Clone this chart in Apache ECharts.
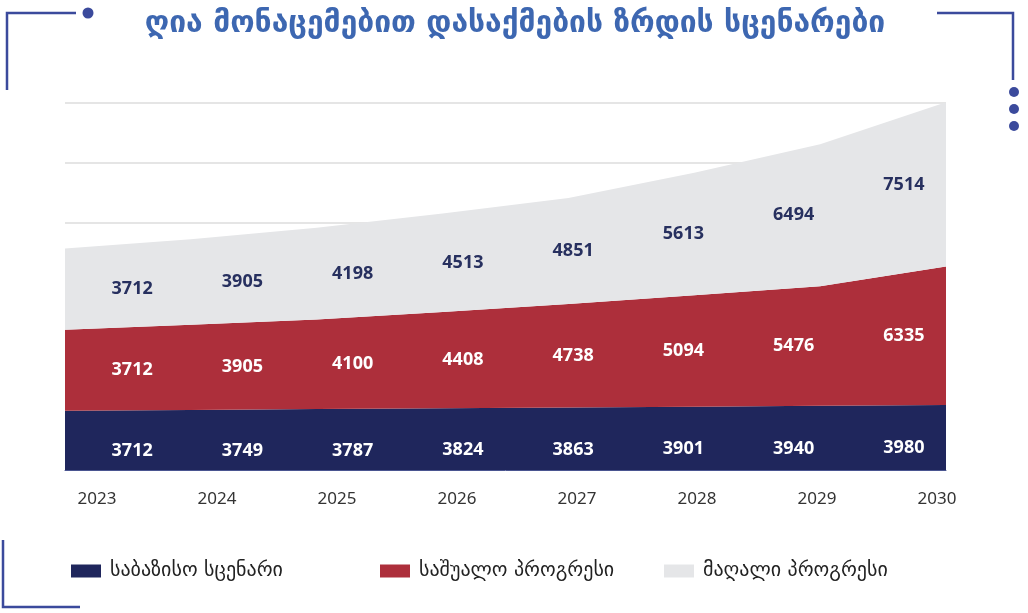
<!DOCTYPE html>
<html>
<head>
<meta charset="utf-8">
<script src="https://cdn.jsdelivr.net/npm/echarts@6/dist/echarts.min.js"></script>
<style>
  html, body { margin: 0; padding: 0; background: #ffffff; }
  #chart { width: 1028px; height: 613px; }
</style>
</head>
<body>
<div id="chart"></div>
<script>
// ---- data ----
const titleText = 'ღია მონაცემებით დასაქმების ზრდის სცენარები';
const years = ['2023', '2024', '2025', '2026', '2027', '2028', '2029', '2030'];
const seriesNames = ['საბაზისო სცენარი', 'საშუალო პროგრესი', 'მაღალი პროგრესი'];
const baseScenario = [3712, 3749, 3787, 3824, 3863, 3901, 3940, 3980];
const mediumProgress = [3712, 3905, 4100, 4408, 4738, 5094, 5476, 6335];
const highProgress = [3712, 3905, 4198, 4513, 4851, 5613, 6494, 7514];

// ---- styling ----
const colors = ['#1f265c', '#ad2f3b', '#e5e6e8'];
const labelColors = ['#ffffff', '#ffffff', '#27305f'];
const deco = '#3b4a9c';
const seriesData = [baseScenario, mediumProgress, highProgress];
const yMin = 1000, yMax = 17800;

const chart = echarts.init(document.getElementById('chart'), null, { renderer: 'canvas' });

const areaSeries = seriesData.map((d, i) => ({
  name: seriesNames[i],
  type: 'line',
  xAxisIndex: 0,
  yAxisIndex: 0,
  stack: 'total',
  data: d,
  symbol: 'none',
  smooth: false,
  clip: false,
  lineStyle: { width: 0, color: colors[i] },
  itemStyle: { color: colors[i] },
  areaStyle: { color: colors[i], opacity: 1, origin: 'start' },
  silent: true,
  z: 2
}));

const labelSeries = seriesData.map((d, i) => ({
  name: 'label-' + i,
  type: 'bar',
  xAxisIndex: 1,
  yAxisIndex: 2,
  stack: 'labels',
  data: d,
  barWidth: '60%',
  clip: false,
  silent: true,
  itemStyle: { color: 'rgba(0,0,0,0)' },
  label: {
    show: true,
    position: 'inside',
    formatter: '{c}',
    color: labelColors[i],
    fontSize: 18,
    fontWeight: 'bold',
    fontFamily: 'Noto Sans'
  },
  z: 5
}));

const legendLeft = [71, 380, 664];

const option = {
  backgroundColor: '#ffffff',
  animation: false,
  title: {
    text: titleText,
    left: 510,
    textAlign: 'center',
    top: 4,
    textStyle: { fontFamily: 'DejaVu Sans', fontSize: 30, fontWeight: 'bold', color: '#3d67b1' }
  },
  legend: seriesNames.map((n, i) => ({
    data: [n],
    left: legendLeft[i],
    top: 561,
    padding: 0,
    icon: 'rect',
    itemWidth: 30,
    itemHeight: 13,
    selectedMode: false,
    textStyle: { fontFamily: 'DejaVu Sans', fontSize: 20, color: '#222222', padding: [0, 0, 0, 4] }
  })),
  grid: [
    { left: 65, right: 82, top: 103, bottom: 143 },
    { left: 77, right: 69, top: 103, bottom: 143 },
    { left: 97, right: 91, top: 103, bottom: 143 }
  ],
  xAxis: [
    {
      gridIndex: 0, type: 'category', data: years, boundaryGap: false, position: 'bottom',
      axisLine: { show: true, onZero: false, lineStyle: { color: '#4a5590', width: 1 } },
      axisTick: { show: false }, axisLabel: { show: false }, splitLine: { show: false },
      z: 10
    },
    { gridIndex: 1, type: 'category', data: years, boundaryGap: true, show: false },
    {
      gridIndex: 2, type: 'category', data: years, boundaryGap: false,
      axisLine: { show: false, onZero: false }, axisTick: { show: false }, splitLine: { show: false },
      axisLabel: { show: true, margin: 21, fontSize: 17, color: '#333333', fontFamily: 'Noto Sans' }
    }
  ],
  yAxis: [
    { gridIndex: 0, type: 'value', min: yMin, max: yMax, show: false },
    {
      gridIndex: 0, type: 'value', inverse: true, min: 0, max: 367, interval: 60,
      axisLine: { show: false }, axisTick: { show: false }, axisLabel: { show: false },
      splitLine: { show: true, lineStyle: { color: '#dcdcdc', width: 1.5 } }
    },
    { gridIndex: 1, type: 'value', min: yMin, max: yMax, show: false },
    { gridIndex: 2, type: 'value', show: false }
  ],
  series: areaSeries.concat(labelSeries),
  graphic: [
    // top-left bracket
    { type: 'polyline', shape: { points: [[76, 13], [7, 13], [7, 90]] }, style: { stroke: deco, lineWidth: 2.5, fill: null } },
    { type: 'circle', shape: { cx: 88, cy: 13, r: 5.5 }, style: { fill: deco } },
    // top-right bracket
    { type: 'polyline', shape: { points: [[937, 13], [1013, 13], [1013, 80]] }, style: { stroke: deco, lineWidth: 2.5, fill: null } },
    { type: 'circle', shape: { cx: 1014, cy: 92, r: 5 }, style: { fill: deco } },
    { type: 'circle', shape: { cx: 1014, cy: 109, r: 5 }, style: { fill: deco } },
    { type: 'circle', shape: { cx: 1014, cy: 126, r: 5 }, style: { fill: deco } },
    // bottom-left bracket
    { type: 'polyline', shape: { points: [[3, 540], [3, 607], [80, 607]] }, style: { stroke: deco, lineWidth: 2.5, fill: null } }
  ]
};

chart.setOption(option);
</script>
</body>
</html>
